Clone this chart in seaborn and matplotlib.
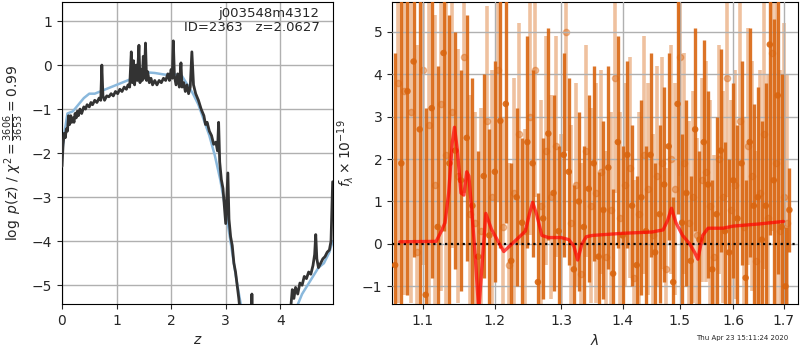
import numpy as np
import pandas as pd
import seaborn as sns
import matplotlib
matplotlib.use("Agg")
import matplotlib.pyplot as plt
from matplotlib.ticker import FixedLocator, FixedFormatter, NullLocator

# ---- left panel: log p(z) ----
z_fit = [0.00, 0.02, 0.04, 0.06, 0.08, 0.10, 0.12, 0.14, 0.16, 0.18, 0.20, 0.22, 0.24, 0.26, 0.28, 0.30,
         0.33, 0.36, 0.40, 0.43, 0.46, 0.50, 0.53, 0.56, 0.60, 0.64, 0.68, 0.71, 0.73, 0.75, 0.78, 0.82,
         0.86, 0.90, 0.94, 0.98, 1.02, 1.06, 1.10, 1.14, 1.18, 1.21, 1.24, 1.27, 1.29, 1.31, 1.33, 1.36,
         1.38, 1.41, 1.43, 1.45, 1.47, 1.49, 1.51, 1.53, 1.55, 1.57, 1.60, 1.63, 1.66, 1.70, 1.74, 1.78,
         1.82, 1.86, 1.90, 1.94, 1.97, 2.00, 2.02, 2.04, 2.06, 2.09, 2.12, 2.15, 2.18, 2.20, 2.23, 2.26,
         2.29, 2.32, 2.35, 2.38, 2.41, 2.45, 2.50, 2.55, 2.60, 2.63, 2.66, 2.70, 2.74, 2.78, 2.82, 2.85,
         2.87, 2.89, 2.92, 2.95, 2.98, 3.00, 3.02, 3.04, 3.06, 3.09, 3.12, 3.15, 3.18, 3.21, 3.24, 3.28,
         3.35, 3.45, 3.48, 3.51, 3.70, 4.00, 4.15, 4.20, 4.22, 4.25, 4.28, 4.32, 4.36, 4.40, 4.44, 4.48,
         4.52, 4.56, 4.60, 4.63, 4.65, 4.67, 4.70, 4.74, 4.78, 4.82, 4.86, 4.90, 4.93, 4.96]
logp_fit = [-2.3, -1.8, -1.55, -1.65, -1.45, -1.5, -1.15, -1.35, -1.15, -1.3, -1.2, -1.3, -1.1, -1.2, -1.05, -1.15,
            -1.0, -1.1, -0.95, -1.0, -0.9, -0.95, -0.85, -0.9, -0.8, -0.85, -0.75, -0.8, 0.0, -0.7, -0.8, -0.7,
            -0.72, -0.65, -0.7, -0.6, -0.65, -0.55, -0.6, -0.5, -0.55, -0.45, -0.5, 0.3, -0.4, 0.1, -0.45, 0.0,
            -0.35, 0.45, -0.4, -0.1, -0.35, 0.2, -0.3, 0.5, -0.35, -0.15, -0.4, -0.3, -0.45, -0.35, -0.45, -0.35,
            -0.4, -0.3, -0.35, -0.2, -0.35, -0.1, -0.3, 0.55, -0.25, -0.45, -0.2, -0.5, 0.05, -0.5, -0.4, -0.6,
            -0.45, -0.65, -0.5, 0.3, -0.45, -0.65, -0.8, -1.0, -1.15, -1.35, -1.3, -1.5, -1.6, -1.8, -1.75, -1.95,
            -1.3, -2.2, -2.6, -2.8, -3.3, -3.6, -3.0, -2.45, -3.5, -3.9, -4.1, -4.5, -4.7, -5.0, -5.3, -5.8,
            -6.5, -6.8, -5.2, -6.8, -7.5, -7.0, -6.0, -5.4, -5.1, -5.3, -5.05, -5.2, -4.95, -5.0, -4.8, -4.85,
            -4.7, -4.75, -4.55, -4.3, -3.85, -4.4, -4.6, -4.5, -4.4, -4.35, -4.25, -4.2, -4.0, -2.65]

z_prior = [0.00, 0.05, 0.10, 0.20, 0.30, 0.40, 0.50, 0.60, 0.70, 0.80, 0.90, 1.00, 1.10, 1.20, 1.30, 1.40,
           1.50, 1.60, 1.70, 1.80, 1.90, 2.00, 2.10, 2.20, 2.30, 2.40, 2.50, 2.60, 2.70, 2.80, 2.90, 3.00,
           3.10, 3.20, 3.30, 3.60, 4.00, 4.30, 4.40, 4.50, 4.60, 4.70, 4.80, 4.90, 4.96]
logp_prior = [-2.0, -1.5, -1.1, -1.05, -0.9, -0.75, -0.65, -0.65, -0.6, -0.55, -0.5, -0.45, -0.4, -0.35, -0.3, -0.22,
              -0.18, -0.17, -0.18, -0.2, -0.22, -0.2, -0.22, -0.25, -0.45, -0.65, -0.9, -1.25, -1.6, -2.05, -2.6, -3.3,
              -4.1, -4.9, -5.6, -7.0, -6.8, -5.5, -5.2, -5.0, -4.8, -4.6, -4.5, -4.25, -4.0]

# ---- right panel: spectrum ----
lam_a = [1.064, 1.072, 1.080, 1.088, 1.096, 1.104, 1.112, 1.120, 1.128, 1.136, 1.144, 1.152, 1.160, 1.168,
         1.176, 1.184, 1.192, 1.200, 1.208, 1.216, 1.224, 1.232, 1.240, 1.248, 1.256, 1.264, 1.272, 1.280,
         1.288, 1.296, 1.304, 1.312, 1.320, 1.328, 1.336, 1.344, 1.352, 1.360, 1.368, 1.376, 1.384, 1.392,
         1.400, 1.408, 1.416, 1.424, 1.432, 1.440, 1.448, 1.456, 1.464, 1.472, 1.480, 1.488, 1.496, 1.504,
         1.512, 1.520, 1.528, 1.536, 1.544, 1.552, 1.560, 1.568, 1.576, 1.584, 1.592, 1.600, 1.608, 1.616,
         1.624, 1.632, 1.640, 1.648, 1.656, 1.664, 1.672, 1.680, 1.688, 1.696, 1.704, 1.712]
flux_a = [-0.5, 1.9, 3.6, 4.3, 2.7, -1.2, 3.2, 0.4, 4.5, 1.9,
          2.2, 1.5, 2.5, 0.9, -0.3, 1.6, 0.2, 1.7, 2.9, 3.3,
          -0.4, 1.1, 0.5, 2.4, 1.9, -0.9, 0.6, 2.6, 1.2, 0.3,
          2.1, 1.7, -0.6, 1.0, 0.4, 1.3, 1.9, -0.3, 0.8, 1.8,
          -0.7, 2.4, 0.2, 2.1, 0.9, -0.5, 1.1, 0.3, 2.1, -0.2,
          0.7, 1.4, 2.3, -0.9, 3.3, 0.5, 1.2, -0.4, 2.7, 0.1,
          2.4, 1.4, -0.6, 0.7, 2.2, 0.3, -0.2, 1.5, 0.6, 1.9,
          -0.8, 2.4, 0.9, 1.1, 0.1, 0.9, 4.7, 1.5, 3.5, 0.4,
          -1.0, 0.8]
err_a = [5.0, 4.5, 4.8, 4.6, 4.2, 4.4, 4.0, 3.8, 4.2, 3.5,
         2.8, 2.6, 2.9, 3.0, 2.5, 2.4, 2.5, 2.6, 3.0, 2.8,
         2.3, 2.1, 2.0, 2.5, 2.2, 2.1, 1.9, 2.5, 2.3, 2.0,
         2.4, 2.2, 2.0, 2.1, 1.9, 2.2, 2.3, 2.0, 2.1, 2.4,
         2.0, 2.5, 2.1, 2.2, 1.9, 2.1, 2.3, 2.0, 2.4, 2.1,
         2.1, 2.3, 2.2, 2.0, 2.6, 2.1, 2.2, 2.0, 2.4, 2.1,
         2.4, 2.2, 2.1, 2.3, 2.4, 2.1, 2.2, 2.3, 2.2, 2.4,
         2.3, 2.7, 2.4, 2.6, 2.8, 2.9, 4.5, 3.8, 4.2, 3.6,
         1.4, 1.0]

lam_b = [1.068, 1.076, 1.084, 1.092, 1.100, 1.108, 1.116, 1.124, 1.132, 1.140, 1.148, 1.156, 1.164, 1.172,
         1.180, 1.188, 1.196, 1.204, 1.212, 1.220, 1.228, 1.236, 1.244, 1.252, 1.260, 1.268, 1.276, 1.284,
         1.292, 1.300, 1.308, 1.316, 1.324, 1.332, 1.340, 1.348, 1.356, 1.364, 1.372, 1.380, 1.388, 1.396,
         1.404, 1.412, 1.420, 1.428, 1.436, 1.444, 1.452, 1.460, 1.468, 1.476, 1.484, 1.492, 1.500, 1.508,
         1.516, 1.524, 1.532, 1.540, 1.548, 1.556, 1.564, 1.572, 1.580, 1.588, 1.596, 1.604, 1.612, 1.620,
         1.628, 1.636, 1.644, 1.652, 1.660, 1.668, 1.676, 1.684, 1.692, 1.700, 1.708]
flux_b = [3.8, 3.6, 3.1, -0.2, 4.1, 2.8, 1.4, 3.3, 2.1, 3.1,
          1.6, 4.4, 0.7, 0.5, 0.3, 2.9, 1.1, 4.1, 0.4, -0.5,
          1.2, 2.6, 0.3, 3.0, 4.1, 0.9, 2.2, 1.1, 2.3, 0.1,
          5.0, 0.5, 1.4, -0.7, 2.2, 0.9, 1.2, 1.7, -0.3, 0.8,
          3.9, 0.6, 1.4, 1.8, -0.8, 0.7, 2.1, 1.3, 0.2, 1.6,
          1.9, -0.6, 2.0, 1.3, 4.4, 1.9, 0.5, 1.1, 0.2, 1.5,
          1.7, 0.9, -0.3, 2.0, 1.1, 3.9, 0.8, 1.4, 2.9, 0.4,
          2.3, 1.6, -0.4, 1.2, 2.6, 0.6, 4.5, 1.9, 0.3, 1.1,
          0.5]
err_b = [5.2, 4.8, 4.5, 4.9, 4.6, 4.3, 4.0, 4.4, 3.6, 3.2,
         3.0, 3.2, 2.8, 2.6, 2.9, 2.7, 3.0, 3.1, 2.6, 2.4,
         2.7, 2.6, 2.4, 2.8, 3.0, 2.5, 2.7, 2.4, 2.6, 2.5,
         2.8, 2.3, 2.4, 2.6, 2.5, 2.3, 2.6, 2.4, 2.5, 2.3,
         2.7, 2.5, 2.4, 2.6, 2.3, 2.4, 2.8, 2.5, 2.4, 2.6,
         2.5, 2.4, 2.7, 2.5, 2.8, 2.6, 2.4, 2.5, 2.3, 2.4,
         2.6, 2.5, 2.4, 2.7, 2.5, 2.8, 2.6, 2.7, 2.9, 2.6,
         2.8, 2.7, 2.6, 2.9, 3.2, 3.4, 4.2, 4.6, 3.8, 4.1,
         3.5]

lam_model = [1.070, 1.118, 1.125, 1.130, 1.135, 1.140, 1.143, 1.147, 1.152, 1.156, 1.160, 1.163, 1.167,
             1.172, 1.177, 1.182, 1.187, 1.195, 1.205, 1.213, 1.225, 1.235, 1.245, 1.251, 1.256, 1.262,
             1.270, 1.280, 1.300, 1.312, 1.320, 1.326, 1.333, 1.340, 1.350, 1.400, 1.450, 1.470, 1.478,
             1.485, 1.493, 1.505, 1.518, 1.527, 1.533, 1.542, 1.552, 1.580, 1.600, 1.650, 1.700]
flux_model = [0.05, 0.06, 0.3, 0.5, 1.2, 2.4, 2.75, 2.2, 1.2, 1.15, 1.7, 1.6, 0.8,
              -0.3, -1.6, -0.4, 0.72, 0.35, 0.05, -0.18, 0.0, 0.15, 0.3, 0.7, 0.98, 0.7,
              0.2, 0.15, 0.15, 0.1, -0.05, -0.38, 0.0, 0.17, 0.2, 0.25, 0.28, 0.33, 0.55,
              0.84, 0.5, 0.2, 0.0, -0.2, -0.36, 0.2, 0.37, 0.37, 0.42, 0.47, 0.53]

sns.set_style("ticks")
plt.rcParams["font.family"] = ["DejaVu Sans"]
plt.rcParams["font.size"] = 10

fig = plt.figure(figsize=(8, 3.5), dpi=100)
ax1 = fig.add_axes([0.0775, 0.131, 0.339, 0.863])
ax2 = fig.add_axes([0.49, 0.131, 0.507, 0.863])

grid_kw = dict(color="#b0b0b0", lw=1.0)

# left panel
pz = pd.DataFrame({"z": z_fit, "logp": logp_fit})
pr = pd.DataFrame({"z": z_prior, "logp": logp_prior})
sns.lineplot(data=pr, x="z", y="logp", ax=ax1, color="#8ab8dc", lw=1.8, estimator=None, zorder=2)
sns.lineplot(data=pz, x="z", y="logp", ax=ax1, color="#333333", lw=2.0, estimator=None, zorder=3)
ax1.set_xlim(0, 4.97)
ax1.set_ylim(-5.43, 1.43)
ax1.set_xticks([0, 1, 2, 3, 4])
ax1.set_yticks([-5, -4, -3, -2, -1, 0, 1])
ax1.grid(True, **grid_kw)
ax1.set_axisbelow(True)
ax1.set_xlabel(r"$z$")
ax1.set_ylabel(r"$\log\ p(z)$ / $\chi^2=\frac{3606}{3653}=0.99$")
ax1.text(0.95, 0.985, "j003548m4312\nID=2363   z=2.0627", transform=ax1.transAxes,
         ha="right", va="top", fontsize=9.5, linespacing=1.1)

# right panel
orange = "#d9650f"
ax2.errorbar(lam_b, flux_b, yerr=err_b, fmt="o", color=orange, alpha=0.4, ms=4.5,
             elinewidth=2.6, capsize=0, zorder=2)
ax2.errorbar(lam_a, flux_a, yerr=err_a, fmt="none", ecolor=orange, alpha=0.9,
             elinewidth=2.4, capsize=0, zorder=3)
spec_a = pd.DataFrame({"lam": lam_a, "flux": flux_a})
sns.scatterplot(data=spec_a, x="lam", y="flux", ax=ax2, color=orange, s=22, alpha=0.9,
                edgecolor="none", zorder=4)
mod = pd.DataFrame({"lam": lam_model, "flux": flux_model})
sns.lineplot(data=mod, x="lam", y="flux", ax=ax2, color="red", lw=2.4, alpha=0.7,
             estimator=None, zorder=6)
ax2.axhline(0, color="k", ls=":", lw=1.6, zorder=5)

ax2.set_xscale("log")
ax2.set_xlim(1.06, 1.729)
ax2.set_ylim(-1.42, 5.70)
xt = [1.1, 1.2, 1.3, 1.4, 1.5, 1.6, 1.7]
ax2.xaxis.set_major_locator(FixedLocator(xt))
ax2.xaxis.set_major_formatter(FixedFormatter([f"{v:.1f}" for v in xt]))
ax2.xaxis.set_minor_locator(NullLocator())
ax2.set_yticks([-1, 0, 1, 2, 3, 4, 5])
ax2.grid(True, **grid_kw)
ax2.set_axisbelow(False)
for gl in ax2.get_xgridlines() + ax2.get_ygridlines():
    gl.set_zorder(4.5)
ax2.set_xlabel(r"$\lambda$")
ax2.set_ylabel(r"$f_\lambda\times10^{-19}$")

for ax in (ax1, ax2):
    for sp in ax.spines.values():
        sp.set_visible(True)
        sp.set_color("black")
    ax.tick_params(labelsize=10, direction="out")

fig.text(0.985, 0.025, "Thu Apr 23 15:11:24 2020", ha="right", va="bottom", fontsize=5)

fig.savefig("out.png", dpi=100)
